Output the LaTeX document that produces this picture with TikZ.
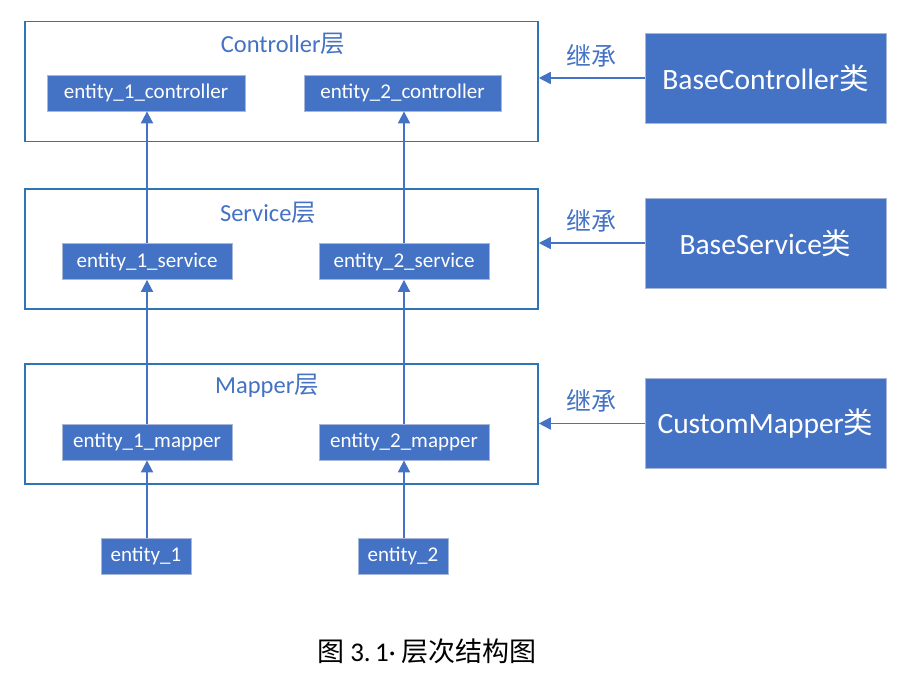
\documentclass[tikz,border=0pt]{standalone}
\usepackage{fontspec}
\setmainfont{Carlito}
\newfontfamily\cjk{Noto Sans CJK SC}
\usetikzlibrary{arrows.meta}
\definecolor{fillblue}{HTML}{4472C4}
\definecolor{edgeblue}{HTML}{2E75B6}
\definecolor{thinedge}{HTML}{A6B7D9}
\begin{document}
\begin{tikzpicture}[x=1pt,y=-1pt,
  layerbox/.style={draw=edgeblue,line width=1.6pt,fill=white,minimum width=513pt,minimum height=120pt,inner sep=0pt},
  ebox/.style={draw=thinedge,line width=0.8pt,fill=fillblue,text=white,inner sep=0pt,minimum height=36pt,font=\fontsize{21}{24}\selectfont},
  basebox/.style={draw=thinedge,line width=0.8pt,fill=fillblue,text=white,inner sep=0pt,minimum width=241pt,minimum height=90pt,font=\fontsize{29.5}{32}\selectfont},
  ttl/.style={text=fillblue,font=\fontsize{24.5}{28}\selectfont},
  arr/.style={draw=fillblue,line width=1.8pt,-{Triangle[width=12pt,length=12pt]}},
  inh/.style={text=fillblue,font=\fontsize{25}{28}\selectfont}
]
\useasboundingbox (0,0) rectangle (915,677);
% layers
\node[layerbox] (ctrl) at (281.5,81.5) {};
\node[layerbox] (serv) at (281.5,249) {};
\node[layerbox] (mapl) at (281.5,424) {};
\node[ttl] (ctrlt) at (283,44) {Controller{\cjk 层}};
\node[ttl] (servt) at (268,213) {Service{\cjk 层}};
\node[ttl] (mapt) at (267,386) {Mapper{\cjk 层}};
% entity boxes
\node[ebox,minimum width=198pt] (c1) at (146,93) {entity\_1\_controller};
\node[ebox,minimum width=197pt] (c2) at (402.5,93) {entity\_2\_controller};
\node[ebox,minimum width=170pt] (s1) at (147,261.5) {entity\_1\_service};
\node[ebox,minimum width=170pt] (s2) at (404,261.5) {entity\_2\_service};
\node[ebox,minimum width=170pt] (m1) at (147,442) {entity\_1\_mapper};
\node[ebox,minimum width=170pt] (m2) at (404,442) {entity\_2\_mapper};
\node[ebox,minimum width=90pt] (e1) at (146,556) {entity\_1};
\node[ebox,minimum width=90pt] (e2) at (403,556) {entity\_2};
% vertical arrows
\draw[arr] (s1.north) -- (s1.north |- c1.south);
\draw[arr] (s2.north) -- (s2.north |- c2.south);
\draw[arr] (m1.north) -- (s1.south);
\draw[arr] (m2.north) -- (s2.south);
\draw[arr] (e1.north -| m1.south) -- (m1.south);
\draw[arr] (e2.north -| m2.south) -- (m2.south);
% base classes
\node[basebox] (bc) at (765.5,78) {BaseController{\cjk 类}};
\node[basebox] (bs) at (765.5,243) {BaseService{\cjk 类}};
\node[basebox] (bm) at (765.5,423.5) {CustomMapper{\cjk 类}};
\draw[arr] (bc.west) -- (bc.west -| ctrl.east) node[midway,above=7pt,inh] (l1) {\cjk 继承};
\draw[arr] (bs.west) -- (bs.west -| serv.east) node[midway,above=7pt,inh] (l2) {\cjk 继承};
\draw[arr] (bm.west) -- (bm.west -| mapl.east) node[midway,above=7pt,inh] (l3) {\cjk 继承};
% caption
\node[font=\fontsize{27}{31}\selectfont] (cap) at (427,651) {{\cjk 图} 3.\,1· {\cjk 层次结构图}};
\end{tikzpicture}
\end{document}
